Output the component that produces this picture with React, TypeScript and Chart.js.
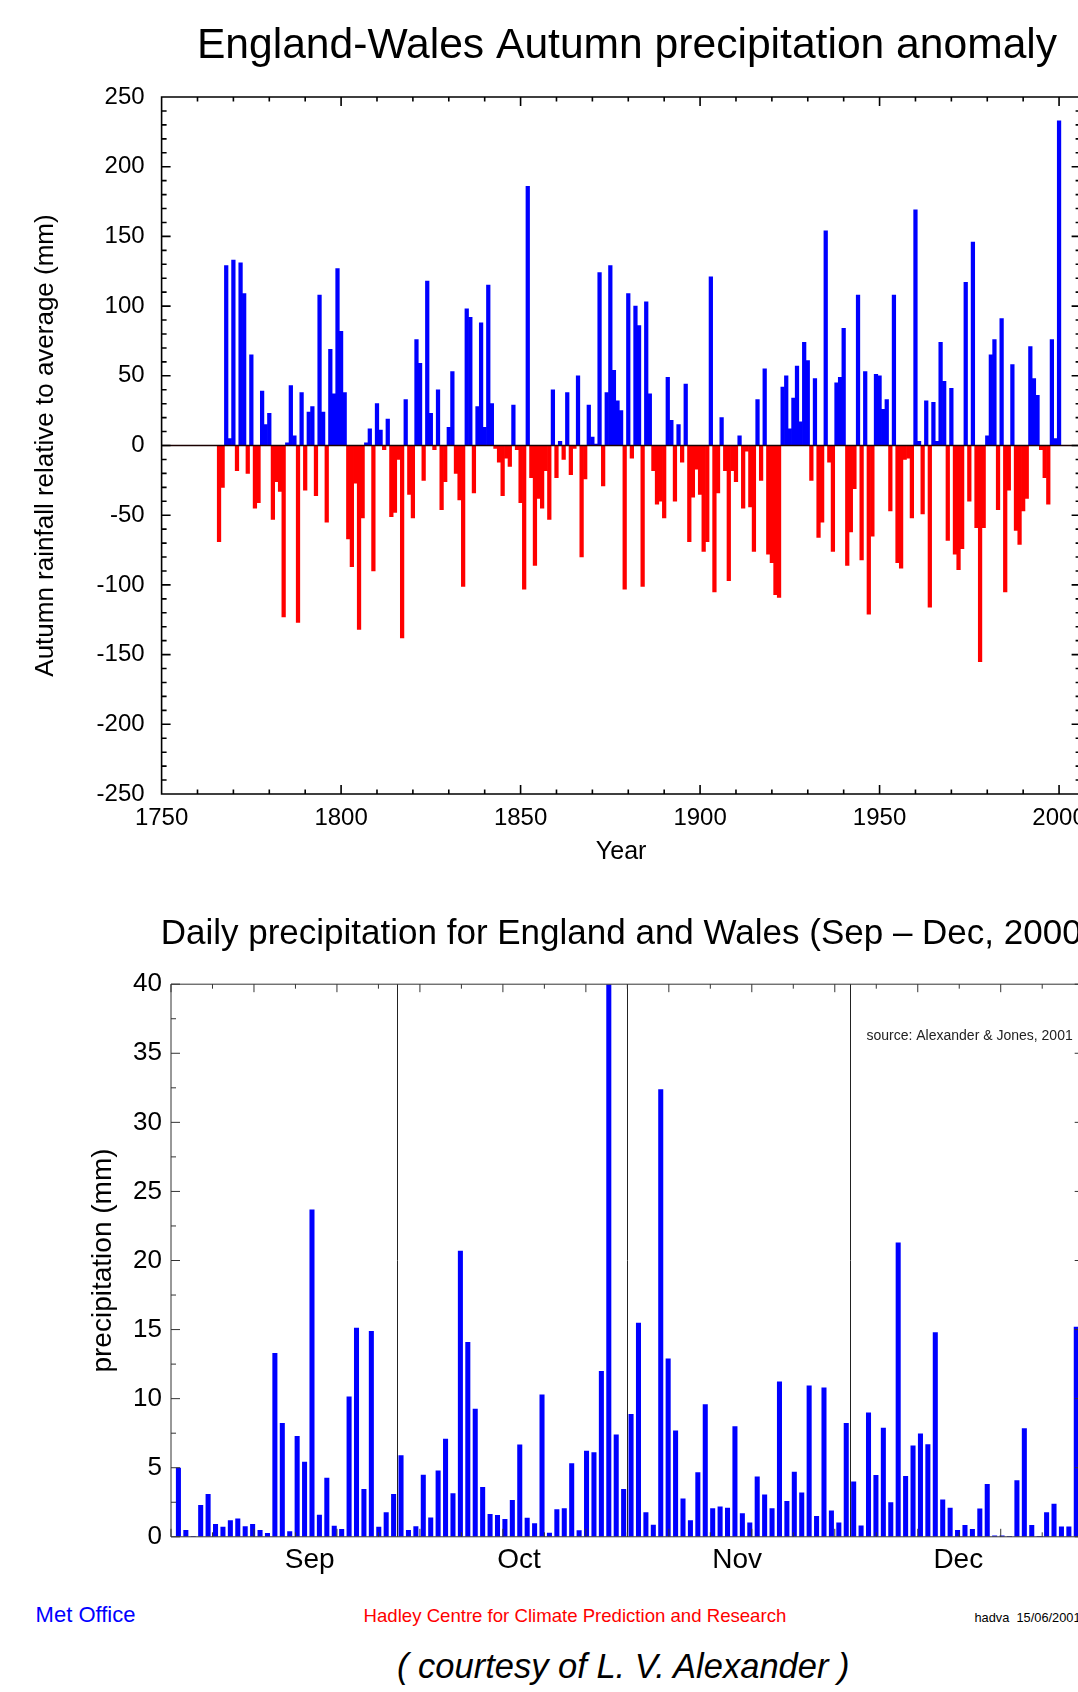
import React, { useEffect, useRef } from 'react';
import { Chart, registerables } from 'chart.js';

Chart.register(...registerables);

const FONT = "'Liberation Sans', Arial, Helvetica, sans-serif";

// ---------- Top chart data: Autumn precipitation anomaly (mm), 1766-2000 ----------
const START_YEAR = 1766;
const ANOMALY = [
  -69, -30, 129, 5, 133, -18, 131, 109, -20, 65,
  -45, -41, 39, 15, 23, -53, -26, -33, -123, 2,
  43, 7, -127, 38, -32, 24, 28, -36, 108, 24,
  -55, 69, 37, 127, 82, 38, -67, -87, -27, -132,
  -52, 2, 12, -90, 30, 11, -3, 19, -51, -48,
  -10, -138, 33, -35, -52, 76, 59, -25, 118, 23,
  -3, 40, -46, -26, 13, 53, -20, -39, -101, 98,
  92, -34, 28, 88, 13, 115, 30, -2, -12, -36,
  -9, -15, 29, -3, -41, -103, 186, -23, -86, -38,
  -45, -18, -53, 40, -23, 3, -10, 38, -21, -2,
  50, -80, -24, 29, 6, 1, 124, -29, 38, 129,
  54, 32, 25, -103, 109, -9, 100, 86, -101, 103,
  37, -18, -42, -40, -52, 49, 18, -40, 15, -12,
  44, -69, -37, -17, -35, -76, -69, 121, -105, -34,
  20, -18, -97, -18, -26, 7, -45, -4, -44, -76,
  33, -25, 55, -78, -84, -107, -109, 42, 50, 12,
  34, 57, 17, 74, 61, -25, 48, -66, -55, 154,
  -12, -76, 45, 49, 84, -86, -62, -31, 108, -82,
  53, -121, -65, 51, 50, 26, 33, -47, 108, -84,
  -88, -10, -9, -52, 169, 3, -49, 32, -116, 31,
  3, 74, 46, -68, 41, -78, -89, -74, 117, -40,
  146, -59, -155, -59, 7, 65, 76, -46, 91, -105,
  -32, 58, -61, -71, -47, -38, 71, 48, 36, -3,
  -23, -42, 76, 5, 233,
];
const YEAR_TICKS = [1750, 1800, 1850, 1900, 1950, 2000];
const ANOMALY_TICKS = [-250, -200, -150, -100, -50, 0, 50, 100, 150, 200, 250];

// ---------- Bottom chart data: daily precipitation (mm), 1 Sep - 31 Dec 2000 ----------
const DAILY_SEP = [
  5.0, 0.5, 0.05, 2.3, 3.1, 0.93, 0.72, 1.2, 1.33, 0.77,
  0.93, 0.5, 0.27, 13.3, 8.24, 0.4, 7.3, 5.43, 23.7, 1.6,
  4.28, 0.8, 0.56, 10.16, 15.13, 3.46, 14.9, 0.72, 1.78, 3.1,
];
const DAILY_OCT = [
  5.9, 0.5, 0.77, 4.5, 1.4, 4.8, 7.1, 3.16, 20.7, 14.1,
  9.26, 3.6, 1.65, 1.57, 1.28, 2.66, 6.68, 1.38, 0.98, 10.3,
  0.29, 2.0, 2.07, 5.32, 0.48, 6.22, 6.12, 12.0, 40, 7.4, 3.46,
];
const DAILY_NOV = [
  8.88, 15.5, 1.78, 0.88, 32.4, 12.9, 7.7, 2.77, 1.2, 4.68,
  9.6, 2.07, 2.2, 2.1, 8.0, 1.7, 1.04, 4.36, 3.06, 2.07,
  11.25, 2.6, 4.7, 3.2, 10.96, 1.5, 10.8, 1.9, 1.04, 8.24,
];
const DAILY_DEC = [
  4.0, 0.82, 9.0, 4.47, 7.9, 2.5, 21.3, 4.4, 6.6, 7.47,
  6.7, 14.8, 2.7, 2.1, 0.5, 0.85, 0.56, 2.05, 3.83, 0.1,
  0.1, 0.05, 4.1, 7.85, 0.85, 0.05, 1.78, 2.4, 0.74, 0.74, 15.2,
];
const DAILY = [...DAILY_SEP, ...DAILY_OCT, ...DAILY_NOV, ...DAILY_DEC];
const MONTHS = ['Sep', 'Oct', 'Nov', 'Dec'];
const MONTH_LABEL_POS = [18.7, 46.9, 76.3, 106.1];
const MONTH_BOUNDS = [30.5, 61.5, 91.5];
const PRECIP_TICKS = [0, 5, 10, 15, 20, 25, 30, 35, 40];

type Tick = { v: number; major: boolean };

function makeFramePlugin(o: {
  color: string;
  lineWidth: number;
  xTicks: Tick[];
  yTicks: Tick[];
  xMajor: number;
  xMinor: number;
  yMajor: number;
  yMinor: number;
  zeroLine?: boolean;
  vLines?: number[];
  note?: string;
}) {
  return {
    id: 'frameTicks',
    afterDatasetsDraw(chart: any) {
      const { ctx, chartArea: ca, scales } = chart;
      const xs = scales.x;
      const ys = scales.y;
      ctx.save();
      if (o.vLines) {
        ctx.strokeStyle = '#222';
        ctx.lineWidth = 1;
        ctx.beginPath();
        for (const v of o.vLines) {
          const px = Math.round(xs.getPixelForValue(v)) + 0.5;
          ctx.moveTo(px, ca.top);
          ctx.lineTo(px, ca.bottom);
        }
        ctx.stroke();
      }
      if (o.zeroLine) {
        const py = ys.getPixelForValue(0);
        ctx.strokeStyle = '#1a0000';
        ctx.lineWidth = 1.6;
        ctx.beginPath();
        ctx.moveTo(ca.left, py);
        ctx.lineTo(ca.right, py);
        ctx.stroke();
      }
      ctx.strokeStyle = o.color;
      ctx.lineWidth = o.lineWidth;
      ctx.beginPath();
      ctx.rect(ca.left, ca.top, ca.right - ca.left, ca.bottom - ca.top);
      for (const t of o.xTicks) {
        const px = xs.getPixelForValue(t.v);
        const L = t.major ? o.xMajor : o.xMinor;
        ctx.moveTo(px, ca.bottom);
        ctx.lineTo(px, ca.bottom - L);
        ctx.moveTo(px, ca.top);
        ctx.lineTo(px, ca.top + L);
      }
      for (const t of o.yTicks) {
        const py = ys.getPixelForValue(t.v);
        const L = t.major ? o.yMajor : o.yMinor;
        ctx.moveTo(ca.left, py);
        ctx.lineTo(ca.left + L, py);
        ctx.moveTo(ca.right, py);
        ctx.lineTo(ca.right - L, py);
      }
      ctx.stroke();
      if (o.note) {
        ctx.fillStyle = '#222';
        ctx.font = `14px ${FONT}`;
        ctx.textAlign = 'right';
        ctx.textBaseline = 'middle';
        ctx.fillText(o.note, ca.right - 11, ca.top + 52.4);
      }
      ctx.restore();
    },
  };
}

function buildTicks(min: number, max: number, step: number, majorEvery: number): Tick[] {
  const out: Tick[] = [];
  const n = Math.round((max - min) / step);
  for (let k = 0; k <= n; k++) {
    out.push({ v: min + k * step, major: k % majorEvery === 0 });
  }
  return out;
}

export default function App() {
  const topRef = useRef<HTMLCanvasElement | null>(null);
  const botRef = useRef<HTMLCanvasElement | null>(null);

  useEffect(() => {
    const topData = ANOMALY.map((v, i) => ({ x: START_YEAR + i, y: v }));
    const topChart = new Chart(topRef.current as HTMLCanvasElement, {
      type: 'bar',
      data: {
        datasets: [
          {
            data: topData as any,
            backgroundColor: ANOMALY.map((v) => (v >= 0 ? '#0000ff' : '#ff0000')),
            borderWidth: 0,
            barPercentage: 1,
            categoryPercentage: 1,
          },
        ],
      },
      options: {
        responsive: false,
        animation: false,
        devicePixelRatio: 1,
        events: [],
        layout: { padding: 0 },
        plugins: {
          legend: { display: false },
          tooltip: { enabled: false },
          title: {
            display: true,
            text: 'England-Wales Autumn precipitation anomaly',
            color: '#000',
            font: { family: FONT, size: 42.6, weight: 'normal' },
            padding: { top: 20.4, bottom: 25.5 },
          },
        },
        scales: {
          x: {
            type: 'linear',
            offset: false,
            min: 1750,
            max: 2006,
            grid: { display: false, drawTicks: false, offset: false },
            border: { display: false },
            afterBuildTicks: (s: any) => {
              s.ticks = YEAR_TICKS.map((value) => ({ value }));
            },
            afterFit: (s: any) => {
              s.height = 86;
            },
            ticks: {
              autoSkip: false,
              maxRotation: 0,
              padding: 9.5,
              color: '#000',
              font: { family: FONT, size: 24 },
              callback: (v: any) => String(v),
            },
            title: {
              display: true,
              text: 'Year',
              color: '#000',
              font: { family: FONT, size: 25 },
              padding: { top: 0, bottom: 12.5 },
            },
          },
          y: {
            type: 'linear',
            position: 'left',
            min: -250,
            max: 250,
            grid: { display: false, drawTicks: false },
            border: { display: false },
            afterBuildTicks: (s: any) => {
              s.ticks = ANOMALY_TICKS.map((value) => ({ value }));
            },
            afterFit: (s: any) => {
              s.width = 161.6;
            },
            ticks: {
              autoSkip: false,
              padding: 17,
              color: '#000',
              font: { family: FONT, size: 24 },
              callback: (v: any) => String(v),
            },
            title: {
              display: true,
              text: 'Autumn rainfall relative to average (mm)',
              color: '#000',
              font: { family: FONT, size: 26 },
              padding: { top: 30.4, bottom: 0 },
            },
          },
          yR: {
            type: 'linear',
            position: 'right',
            display: true,
            grid: { display: false, drawTicks: false },
            border: { display: false },
            ticks: { display: false },
            afterFit: (s: any) => {
              s.width = 173.4;
            },
          },
        },
      } as any,
      plugins: [
        makeFramePlugin({
          color: '#000',
          lineWidth: 1.6,
          xTicks: buildTicks(1750, 2000, 10, 5),
          yTicks: buildTicks(-250, 250, 10, 5),
          xMajor: 9,
          xMinor: 4.5,
          yMajor: 9,
          yMinor: 5,
          zeroLine: true,
        }),
      ],
    });

    const botData = DAILY.map((v, i) => ({ x: i + 1, y: v }));
    const botChart = new Chart(botRef.current as HTMLCanvasElement, {
      type: 'bar',
      data: {
        datasets: [
          {
            data: botData as any,
            backgroundColor: '#0000ff',
            borderWidth: 0,
            barPercentage: 0.68,
            categoryPercentage: 1,
          },
        ],
      },
      options: {
        responsive: false,
        animation: false,
        devicePixelRatio: 1,
        events: [],
        layout: { padding: 0 },
        plugins: {
          legend: { display: false },
          tooltip: { enabled: false },
          title: {
            display: true,
            text: 'Daily precipitation for England and Wales (Sep \u2013 Dec, 2000)',
            color: '#000',
            font: { family: FONT, size: 35, weight: 'normal' },
            padding: { top: 33, bottom: 29.2 },
          },
        },
        scales: {
          x: {
            type: 'linear',
            offset: false,
            min: 0,
            max: 123,
            grid: { display: false, drawTicks: false, offset: false },
            border: { display: false },
            afterBuildTicks: (s: any) => {
              s.ticks = MONTH_LABEL_POS.map((value) => ({ value }));
            },
            afterFit: (s: any) => {
              s.height = 63.2;
            },
            ticks: {
              autoSkip: false,
              maxRotation: 0,
              padding: 6.5,
              color: '#000',
              font: { family: FONT, size: 28 },
              callback: (_v: any, i: number) => MONTHS[i],
            },
          },
          y: {
            type: 'linear',
            position: 'left',
            min: 0,
            max: 40,
            grid: { display: false, drawTicks: false },
            border: { display: false },
            afterBuildTicks: (s: any) => {
              s.ticks = PRECIP_TICKS.map((value) => ({ value }));
            },
            afterFit: (s: any) => {
              s.width = 171;
            },
            ticks: {
              autoSkip: false,
              padding: 9,
              color: '#000',
              font: { family: FONT, size: 26 },
              callback: (v: any) => String(v),
            },
            title: {
              display: true,
              text: 'precipitation (mm)',
              color: '#000',
              font: { family: FONT, size: 28 },
              padding: { top: 86.8, bottom: 0 },
            },
          },
          yR: {
            type: 'linear',
            position: 'right',
            display: true,
            grid: { display: false, drawTicks: false },
            border: { display: false },
            ticks: { display: false },
            afterFit: (s: any) => {
              s.width = 170.3;
            },
          },
        },
      } as any,
      plugins: [
        makeFramePlugin({
          color: '#333',
          lineWidth: 1,
          xTicks: buildTicks(0, 123, 123 / 22, 2),
          yTicks: buildTicks(0, 40, 2.5, 2),
          xMajor: 8,
          xMinor: 4.5,
          yMajor: 9,
          yMinor: 5,
          vLines: MONTH_BOUNDS,
          note: 'source: Alexander & Jones, 2001',
        }),
      ],
    });

    return () => {
      topChart.destroy();
      botChart.destroy();
    };
  }, []);

  const textBase: React.CSSProperties = {
    position: 'absolute',
    fontFamily: FONT,
    whiteSpace: 'pre',
    lineHeight: 1,
    margin: 0,
  };

  return (
    <div
      style={{
        position: 'absolute',
        left: 0,
        top: 0,
        width: 1078,
        height: 1692,
        overflow: 'hidden',
        background: '#fff',
      }}
    >
      <canvas
        ref={topRef}
        width={1254}
        height={880}
        style={{ position: 'absolute', left: 0, top: 0, width: 1254, height: 880 }}
      />
      <canvas
        ref={botRef}
        width={1254}
        height={720}
        style={{ position: 'absolute', left: 0, top: 880, width: 1254, height: 720 }}
      />
      <div style={{ ...textBase, left: 35.6, top: 1604, fontSize: 22, color: '#0000ff' }}>Met Office</div>
      <div style={{ ...textBase, left: 363.6, top: 1607, fontSize: 18.6, color: '#ff0000' }}>
        Hadley Centre for Climate Prediction and Research
      </div>
      <div style={{ ...textBase, left: 974.5, top: 1612, fontSize: 12.8, color: '#000' }}>hadva  15/06/2001</div>
      <div style={{ ...textBase, left: 397, top: 1649, fontSize: 34.5, fontStyle: 'italic', color: '#000' }}>
        ( courtesy of L. V. Alexander )
      </div>
    </div>
  );
}
